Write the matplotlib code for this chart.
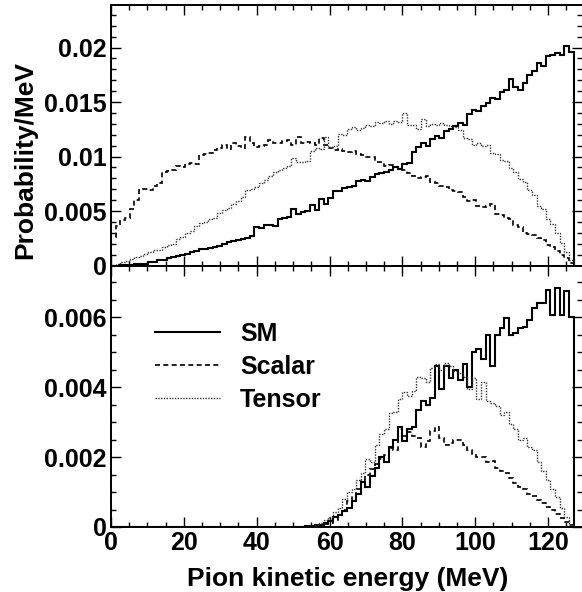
import numpy as np
import matplotlib
matplotlib.use("Agg")
import matplotlib.pyplot as plt
from matplotlib.ticker import MultipleLocator

plt.rcParams['font.family'] = ['Liberation Sans', 'DejaVu Sans']
plt.rcParams['font.weight'] = 'bold'

# Histogram binning: 100 bins, 0-127 MeV
bin_lo = 0.0
bin_hi = 127.0
n_bins = 100

# Values in units of 1e-3 Probability/MeV
top_sm = [0.00, 0.00, 0.02, 0.04, 0.07, 0.10, 0.12, 0.18, 0.28, 0.33,
          0.48, 0.55, 0.70, 0.74, 0.90, 0.98, 1.05, 1.28, 1.32, 1.48,
          1.52, 1.62, 1.70, 1.80, 2.00, 2.15, 2.22, 2.36, 2.45, 2.55,
          2.75, 3.55, 3.40, 3.75, 3.70, 3.65, 4.25, 4.40, 4.45, 5.20,
          4.70, 4.95, 5.00, 5.55, 5.05, 6.10, 5.60, 6.15, 6.85, 6.85,
          7.15, 7.20, 7.30, 7.75, 7.80, 7.75, 8.10, 8.35, 8.50, 8.55,
          8.80, 9.05, 8.85, 9.30, 9.40, 10.40, 10.90, 11.20, 11.00, 11.60,
          11.90, 11.70, 12.30, 12.50, 12.80, 13.10, 12.90, 13.90, 14.30, 14.20,
          14.60, 14.90, 15.40, 15.30, 15.90, 16.10, 17.10, 16.40, 16.10, 16.70,
          17.50, 17.80, 18.60, 18.30, 19.20, 19.30, 19.50, 19.30, 20.10, 19.60]

top_scalar = [2.6, 3.6, 4.2, 4.4, 5.2, 6.0, 6.9, 7.0, 6.9, 7.3,
              7.6, 8.6, 8.7, 8.8, 9.1, 9.0, 9.3, 9.4, 9.3, 10.1,
              10.2, 10.3, 10.6, 10.8, 11.1, 10.7, 11.2, 11.0, 10.8, 11.8,
              11.2, 10.9, 11.0, 11.1, 11.5, 11.2, 11.2, 11.4, 11.5, 11.1,
              11.8, 11.2, 11.3, 11.2, 11.1, 11.7, 11.1, 10.8, 10.6, 10.7,
              10.5, 10.4, 10.5, 10.2, 10.1, 10.0, 10.0, 9.5, 9.5, 9.1,
              9.2, 9.0, 8.9, 8.8, 8.5, 8.2, 8.0, 8.1, 8.2, 7.7,
              7.6, 7.3, 7.2, 6.9, 6.8, 6.7, 6.3, 5.9, 6.0, 5.5,
              5.4, 5.5, 5.6, 4.7, 4.6, 4.4, 4.3, 3.7, 3.5, 3.0,
              2.9, 2.8, 2.5, 2.3, 1.9, 1.7, 1.3, 1.0, 0.7, 0.25]

top_tensor = [0.05, 0.15, 0.35, 0.40, 0.60, 0.75, 0.85, 1.10, 1.20, 1.40,
              1.45, 1.70, 1.85, 2.00, 2.40, 2.60, 2.95, 3.20, 3.65, 3.90,
              4.00, 4.30, 4.40, 4.80, 5.10, 5.30, 5.60, 5.90, 6.30, 6.90,
              7.00, 7.20, 7.60, 7.80, 8.20, 8.60, 8.80, 8.90, 9.10, 9.90,
              9.50, 9.50, 9.60, 10.50, 10.80, 10.70, 11.80, 10.90, 11.00, 12.10,
              12.00, 12.50, 12.70, 12.40, 12.60, 12.90, 12.80, 13.20, 13.10, 13.30,
              13.00, 13.30, 13.20, 14.00, 12.90, 12.90, 12.50, 13.40, 12.80, 13.00,
              12.90, 13.10, 12.90, 12.80, 12.70, 12.40, 11.70, 11.60, 11.10, 11.20,
              11.00, 11.10, 10.30, 10.20, 9.70, 9.60, 8.90, 8.60, 7.90, 7.70,
              6.90, 6.50, 5.50, 5.20, 4.30, 3.80, 3.00, 2.10, 1.20, 0.50]

bot_sm = [0.0] * 41 + [
    0.01, 0.02, 0.03, 0.05, 0.07, 0.12, 0.18, 0.30, 0.35,
    0.45, 0.55, 0.75, 0.95, 1.30, 1.15, 1.45, 1.70, 2.00, 1.85,
    2.30, 2.50, 2.85, 2.45, 2.80, 2.85, 3.35, 3.60, 3.50, 3.70,
    4.60, 3.95, 4.60, 4.25, 4.50, 4.20, 4.65, 4.00, 5.00, 5.10,
    4.80, 5.50, 4.60, 5.50, 5.68, 5.97, 5.50, 5.55, 5.70, 5.73,
    5.92, 6.26, 6.40, 6.40, 6.78, 6.07, 6.85, 6.07, 6.75, 6.00]

bot_scalar = [0.0] * 42 + [
    0.01, 0.02, 0.03, 0.05, 0.08, 0.12, 0.20, 0.35,
    0.50, 0.75, 0.90, 1.10, 1.35, 1.50, 1.65, 1.80, 1.95, 2.05,
    2.25, 2.20, 2.80, 2.60, 2.72, 2.60, 2.55, 2.30, 2.45, 2.75,
    2.85, 2.55, 2.35, 2.40, 2.50, 2.48, 2.35, 2.20, 2.10, 2.00,
    2.00, 1.85, 1.90, 1.70, 1.60, 1.55, 1.40, 1.25, 1.15, 1.10,
    0.95, 0.88, 0.78, 0.70, 0.58, 0.48, 0.38, 0.25, 0.15, 0.05]

bot_tensor = [0.0] * 41 + [
    0.01, 0.02, 0.04, 0.07, 0.12, 0.20, 0.30, 0.42, 0.55,
    0.80, 1.00, 1.10, 1.35, 1.55, 1.95, 1.85, 2.35, 2.65, 2.80,
    3.25, 3.30, 3.65, 3.85, 3.75, 3.90, 4.30, 4.25, 4.15, 4.55,
    4.65, 4.50, 4.70, 4.60, 4.45, 4.40, 4.30, 3.95, 4.25, 3.65,
    4.15, 3.60, 3.55, 3.45, 3.20, 3.30, 2.95, 2.80, 2.50, 2.55,
    2.30, 2.20, 1.85, 1.60, 1.35, 1.10, 0.85, 0.55, 0.30, 0.05]

series_labels = ["SM", "Scalar", "Tensor"]
x_label = "Pion kinetic energy (MeV)"
y_label = "Probability/MeV"
scale = 1e-3

edges = np.linspace(bin_lo, bin_hi, n_bins + 1)

fig = plt.figure(figsize=(5.82, 5.92), dpi=100)
L, R = 111 / 582, 1.0
y_top, y_mid, y_bot = 1 - 5 / 592, 1 - 265.5 / 592, 1 - 527 / 592
ax1 = fig.add_axes([L, y_mid, R - L, y_top - y_mid])
ax2 = fig.add_axes([L, y_bot, R - L, y_mid - y_bot])

styles = [dict(color='black', lw=1.5, ls='-'),
          dict(color='black', lw=1.2, ls=(0, (3, 2))),
          dict(color='#333333', lw=1.0, ls=(0, (1, 1)))]

for ax, data in ((ax1, (top_sm, top_scalar, top_tensor)),
                 (ax2, (bot_sm, bot_scalar, bot_tensor))):
    for vals, st, lab in zip(data, styles, series_labels):
        ax.stairs(np.array(vals) * scale, edges, baseline=0, label=lab, **st)
    ax.set_xlim(0, 129.3)
    ax.xaxis.set_major_locator(MultipleLocator(20))
    ax.xaxis.set_minor_locator(MultipleLocator(5))
    ax.tick_params(which='both', direction='in', top=True, right=True,
                   labelsize=18, width=1.0, pad=3)
    ax.tick_params(which='major', length=7)
    ax.tick_params(which='minor', length=3.5)
    for s in ('left', 'bottom', 'top'):
        ax.spines[s].set_linewidth(1.4)
    ax.spines['right'].set_visible(False)

ax1.set_ylim(0, 0.0239)
ax1.yaxis.set_minor_locator(MultipleLocator(0.001))
ax1.set_yticks([0, 0.005, 0.01, 0.015, 0.02])
ax1.set_yticklabels(["0", "0.005", "0.01", "0.015", "0.02"])
ax1.tick_params(labelbottom=False)

ax2.set_ylim(0, 0.00748)
ax2.set_yticks([0, 0.002, 0.004, 0.006])
ax2.set_yticklabels(["0", "0.002", "0.004", "0.006"])
ax2.yaxis.set_minor_locator(MultipleLocator(0.0005))

for ax in (ax1, ax2):
    for t in ax.get_xticklabels() + ax.get_yticklabels():
        t.set_fontweight('bold')

ax1.set_ylabel(y_label, fontsize=19, fontweight='bold')
ax1.yaxis.set_label_coords(-0.157, 0.405)
ax2.set_xlabel(x_label, fontsize=19, fontweight='bold')
ax2.xaxis.set_label_coords(0.502, -0.153)

leg = ax2.legend(loc='upper left', bbox_to_anchor=(0.093, 0.785), frameon=False,
                 borderpad=0, handlelength=2.6, handletextpad=0.8,
                 labelspacing=0.36, prop=dict(size=18, weight='bold'),
                 borderaxespad=0)

fig.savefig("out.png", dpi=100)
